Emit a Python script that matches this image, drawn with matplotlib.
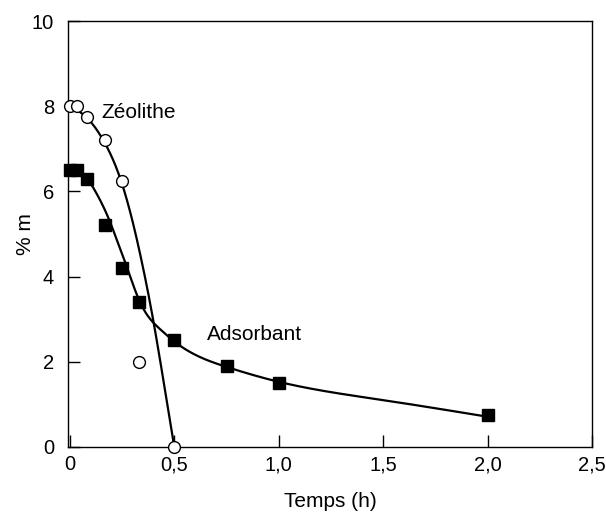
import numpy as np
import matplotlib
matplotlib.use("Agg")
import matplotlib.pyplot as plt

plt.rcParams['font.family'] = ['Liberation Sans', 'DejaVu Sans']

# Measured points
zeo_x = [0.0, 0.033, 0.083, 0.167, 0.25, 0.333, 0.5]
zeo_y = [8.0, 8.0, 7.75, 7.2, 6.25, 2.0, 0.0]
ads_x = [0.0, 0.033, 0.083, 0.167, 0.25, 0.333, 0.5, 0.75, 1.0, 2.0]
ads_y = [6.5, 6.5, 6.3, 5.2, 4.2, 3.4, 2.5, 1.9, 1.5, 0.75]

# Fitted curves
zeo_cx = [0.0, 0.077, 0.159, 0.247, 0.30, 0.343, 0.399, 0.45, 0.5]
zeo_cy = [8.0, 7.75, 7.21, 6.22, 5.30, 4.38, 2.98, 1.50, 0.0]
ads_cx = [0.0, 0.04, 0.08, 0.128, 0.191, 0.231, 0.271, 0.327, 0.37, 0.42, 0.463, 0.502,
          0.75, 1.0, 1.5, 2.0]
ads_cy = [6.5, 6.45, 6.31, 5.95, 5.30, 4.78, 4.25, 3.50, 3.10, 2.82, 2.63, 2.47,
          1.88, 1.53, 1.10, 0.71]

xticks = [0, 0.5, 1.0, 1.5, 2.0, 2.5]
xticklabels = ['0', '0,5', '1,0', '1,5', '2,0', '2,5']
yticks = [0, 2, 4, 6, 8, 10]


def natural_spline(x, y, xs):
    x = np.asarray(x, float); y = np.asarray(y, float)
    n = len(x); h = np.diff(x)
    A = np.zeros((n, n)); b = np.zeros(n)
    A[0, 0] = 1; A[-1, -1] = 1
    for i in range(1, n - 1):
        A[i, i - 1] = h[i - 1]; A[i, i] = 2 * (h[i - 1] + h[i]); A[i, i + 1] = h[i]
        b[i] = 6 * ((y[i + 1] - y[i]) / h[i] - (y[i] - y[i - 1]) / h[i - 1])
    M = np.linalg.solve(A, b)
    out = np.empty_like(xs)
    for j, xv in enumerate(xs):
        k = min(max(np.searchsorted(x, xv) - 1, 0), n - 2)
        a = x[k + 1] - xv; c = xv - x[k]
        out[j] = (M[k] * a**3 + M[k + 1] * c**3) / (6 * h[k]) \
            + (y[k] / h[k] - M[k] * h[k] / 6) * a + (y[k + 1] / h[k] - M[k + 1] * h[k] / 6) * c
    return out


fig = plt.figure(figsize=(6.06, 5.13), dpi=100)
ax = fig.add_axes([0.112, 0.1287, 0.865, 0.8303])

xs = np.linspace(zeo_cx[0], zeo_cx[-1], 300)
ax.plot(xs, natural_spline(zeo_cx, zeo_cy, xs), color='black', lw=1.6, zorder=2)
xs2 = np.linspace(ads_cx[0], ads_cx[-1], 600)
ax.plot(xs2, natural_spline(ads_cx, ads_cy, xs2), color='black', lw=1.6, zorder=2)

ax.plot(ads_x, ads_y, 's', color='black', markersize=8, zorder=3, clip_on=False)
ax.plot(zeo_x, zeo_y, 'o', markerfacecolor='white', markeredgecolor='black',
        markersize=8.5, markeredgewidth=1.0, zorder=4, clip_on=False)

ax.text(0.15, 7.85, 'Zéolithe', fontsize=15, va='center', ha='left')
ax.text(0.655, 2.63, 'Adsorbant', fontsize=15, va='center', ha='left')

ax.set_xlim(-0.0095, 2.5)
ax.set_ylim(0, 10)
ax.set_xticks(xticks)
ax.set_xticklabels(xticklabels)
ax.set_yticks(yticks)
ax.tick_params(direction='in', length=8.5, width=1, labelsize=14.5)
ax.tick_params(axis='x', pad=6)
ax.tick_params(axis='y', pad=10)
ax.set_xlabel('Temps (h)', fontsize=15, labelpad=13)
ax.set_ylabel('% m', fontsize=15, labelpad=-2)
for s in ax.spines.values():
    s.set_linewidth(1.0)

fig.savefig('out.png', dpi=100)
